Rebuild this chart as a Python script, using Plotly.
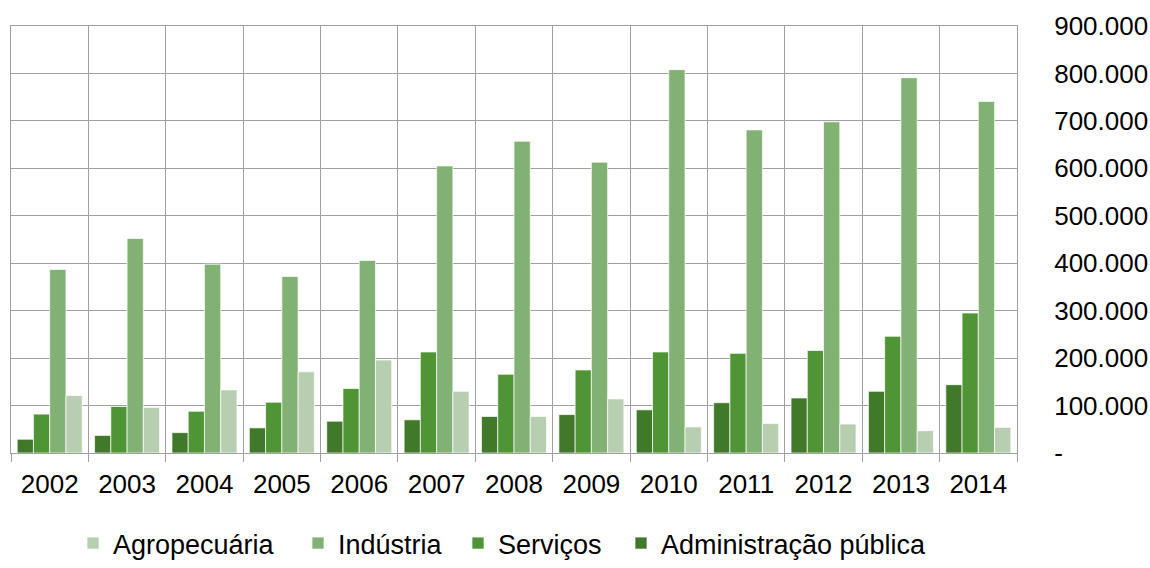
import plotly.graph_objects as go

years = ["2002", "2003", "2004", "2005", "2006", "2007", "2008",
         "2009", "2010", "2011", "2012", "2013", "2014"]

admin_publica = [29000, 37000, 43000, 53000, 67000, 70000, 77000,
                 81000, 91000, 106000, 116000, 130000, 144000]
servicos = [82000, 98000, 88000, 107000, 136000, 213000, 166000,
            175000, 213000, 210000, 216000, 246000, 295000]
industria = [387000, 452000, 398000, 372000, 406000, 605000, 657000,
             613000, 808000, 681000, 698000, 791000, 741000]
agropecuaria = [121000, 96000, 133000, 171000, 196000, 130000, 77000,
                114000, 55000, 62000, 61000, 47000, 54000]

y_tickvals = [0, 100000, 200000, 300000, 400000, 500000, 600000, 700000, 800000, 900000]
y_ticktext = ["-", "100.000", "200.000", "300.000", "400.000", "500.000",
              "600.000", "700.000", "800.000", "900.000"]

# (name, values, colour, legend id, legend x in container px)
series = [
    ("Administração pública", admin_publica, "#41792B", "legend4", 621),
    ("Serviços", servicos, "#4F9435", "legend3", 458),
    ("Indústria", industria, "#82B174", "legend2", 298),
    ("Agropecuária", agropecuaria, "#B8CEB1", "legend", 73),
]

W, H = 1150, 568
grid = "#A0A0A0"
font_family = "Liberation Sans, Arial, sans-serif"

fig = go.Figure()
legend_layout = {}
for name, vals, color, leg, lx in series:
    fig.add_trace(go.Bar(
        x=years, y=vals, name=name, legend=leg,
        marker=dict(color=color, line=dict(color="rgba(255,255,255,0.7)", width=1)),
    ))
    legend_layout[leg] = dict(
        orientation="h", xref="container", yref="container",
        x=lx / W, xanchor="left", y=-0.008, yanchor="bottom",
        font=dict(size=27, family=font_family, color="#000000"),
        itemclick=False, bgcolor="rgba(0,0,0,0)",
    )

fig.update_layout(
    width=W, height=H,
    margin=dict(l=11, r=133, t=26, b=115, autoexpand=False),
    paper_bgcolor="white", plot_bgcolor="white",
    barmode="group", bargap=0.16, bargroupgap=0,
    font=dict(family=font_family, size=26, color="#000000"),
    showlegend=True,
    xaxis=dict(
        type="category", tickson="boundaries", automargin=False,
        showgrid=True, gridcolor=grid, gridwidth=1,
        ticks="outside", ticklen=8, tickcolor=grid, tickwidth=1,
        showline=True, linecolor=grid, linewidth=1, mirror=True,
        tickfont=dict(size=26), ticklabelstandoff=8,
    ),
    yaxis=dict(
        side="right", range=[0, 900000], automargin=False,
        tickvals=y_tickvals, ticktext=y_ticktext,
        showgrid=True, gridcolor=grid, gridwidth=1,
        zeroline=False,
        showline=True, linecolor=grid, linewidth=1, mirror=True,
        ticks="", tickfont=dict(size=26), ticklabelstandoff=31,
    ),
    **legend_layout,
)

fig.write_html("out.html")
